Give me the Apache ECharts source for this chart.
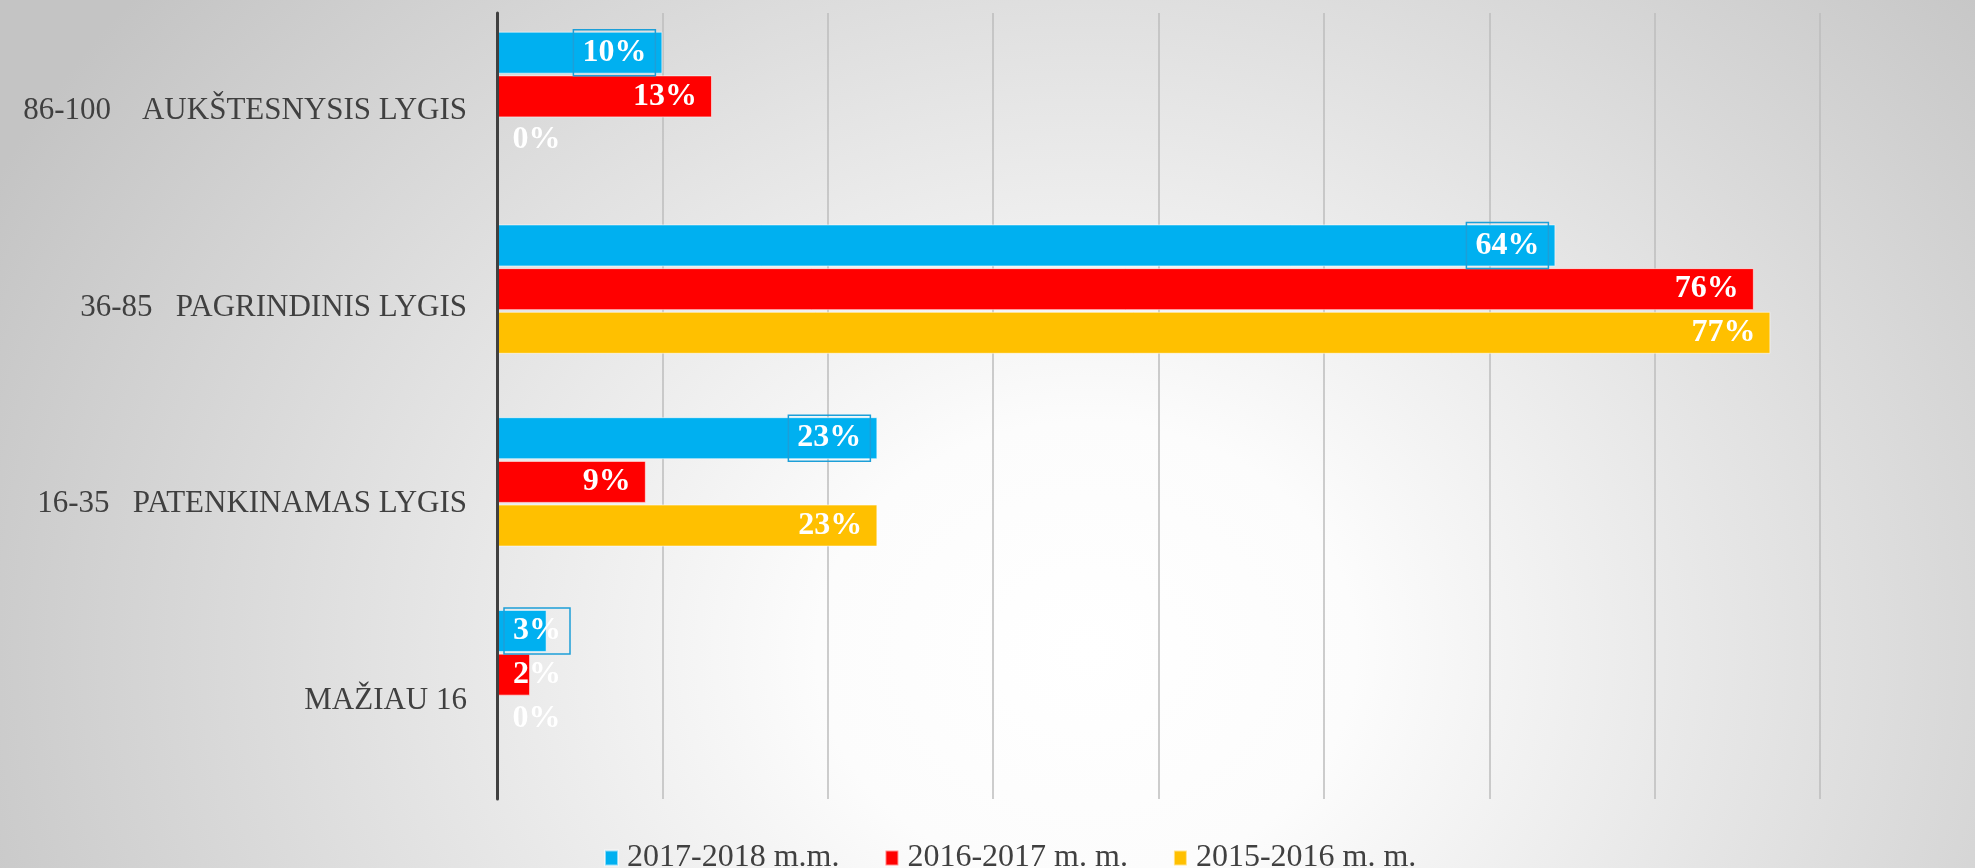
<!DOCTYPE html>
<html>
<head>
<meta charset="utf-8">
<script src="https://cdn.jsdelivr.net/npm/echarts@6/dist/echarts.min.js"></script>
<style>
    html, body {
        margin: 0;
        padding: 0;
    }
    #chart {
        width: 1975px;
        height: 868px;
        background: radial-gradient(ellipse 62% 120% at 55% 75%, #ffffff 0%, #fcfcfc 22%, #c4c4c4 100%);
    }
</style>
</head>
<body>
<div id="chart"></div>
<script>
// kategorijos iš viršaus į apačią
const categories = ['86-100    AUKŠTESNYSIS LYGIS', '36-85   PAGRINDINIS LYGIS', '16-35   PATENKINAMAS LYGIS', 'MAŽIAU 16']
const seriesNames = ['2017-2018 m.m.', '2016-2017 m. m.', '2015-2016 m. m.']
const values2017 = [10, 64, 23, 3]
const values2016 = [13, 76, 9, 2]
const values2015 = [0, 77, 23, 0]
const xTicks = [0, 10, 20, 30, 40, 50, 60, 70, 80]

const colors = ['#00B0F0', '#FF0000', '#FFC000']
const serif = '"Liberation Serif", "DejaVu Serif", serif'

// mažos reikšmės rašomos nuo ašies, kitos - bako gale
function toData(values, boxed) {
    return values.map(v => {
        const small = v < 5
        return {
            value: v,
            label: {
                position: small ? 'insideLeft' : 'insideRight',
                distance: boxed ? 7 : (small ? 16 : 15)
            }
        }
    })
}

function makeSeries(i, values) {
    const boxed = i === 0
    return {
        name: seriesNames[i],
        type: 'bar',
        xAxisIndex: 1,
        yAxisIndex: 1,
        barWidth: 42,
        barGap: '4%',
        itemStyle: {
            color: colors[i],
            borderColor: 'rgba(255,255,255,0.55)',
            borderWidth: 1
        },
        label: {
            show: true,
            formatter: '{c}%',
            color: '#ffffff',
            fontFamily: serif,
            fontWeight: 'bold',
            fontSize: 32,
            padding: boxed ? [8, 9, 6, 9] : 0,
            borderColor: boxed ? '#1c9fd8' : 'transparent',
            borderWidth: boxed ? 1.5 : 0
        },
        data: toData(values, boxed)
    }
}

const chart = echarts.init(document.getElementById('chart'))
chart.setOption({
    animation: false,
    legend: {
        data: seriesNames,
        left: 599,
        top: 837,
        icon: 'rect',
        itemWidth: 13,
        itemHeight: 15,
        itemGap: 45,
        textStyle: {
            color: '#404040',
            fontFamily: serif,
            fontSize: 32,
            padding: [0, 0, 0, 4]
        }
    },
    grid: [
        { left: 497, right: 155, top: 13, height: 786 },
        // bakai pakelti kaip originale
        { left: 497, right: 155, top: -15, height: 786 }
    ],
    xAxis: [
        {
            gridIndex: 0,
            type: 'value',
            min: xTicks[0],
            max: xTicks[xTicks.length - 1],
            interval: 10,
            axisLine: { show: false },
            axisTick: { show: false },
            axisLabel: { show: false },
            splitLine: { lineStyle: { color: '#bdbdbd', width: 1.5 } }
        },
        {
            gridIndex: 1,
            type: 'value',
            min: xTicks[0],
            max: xTicks[xTicks.length - 1],
            interval: 10,
            show: false
        }
    ],
    yAxis: [
        {
            gridIndex: 0,
            type: 'category',
            inverse: true,
            data: categories,
            z: 10,
            axisLine: { lineStyle: { color: '#404040', width: 3 } },
            axisTick: { show: false },
            axisLabel: {
                color: '#404040',
                fontFamily: serif,
                fontSize: 31,
                margin: 30
            }
        },
        {
            gridIndex: 1,
            type: 'category',
            inverse: true,
            data: categories,
            show: false
        }
    ],
    series: [
        makeSeries(0, values2017),
        makeSeries(1, values2016),
        makeSeries(2, values2015)
    ]
})
</script>
</body>
</html>
